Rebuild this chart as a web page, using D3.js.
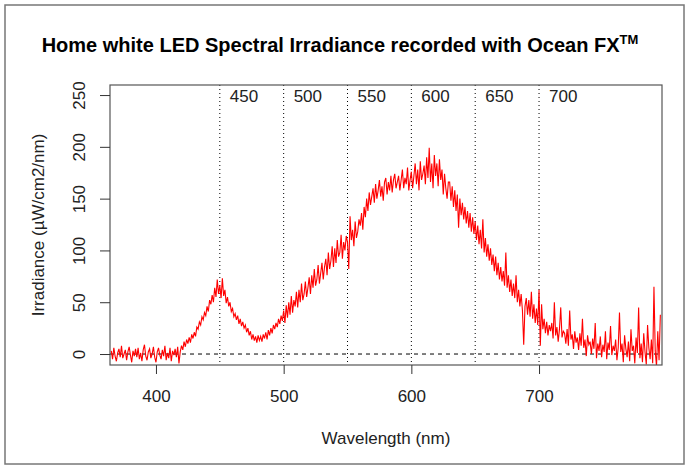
<!DOCTYPE html>
<html><head><meta charset="utf-8">
<script src="https://cdn.jsdelivr.net/npm/d3@7"></script>
<style>
body{margin:0;background:#fff;}
text{font-family:"Liberation Sans",Arial,sans-serif;fill:#222;}
</style></head>
<body><svg id="c" width="689" height="466"></svg>
<script>
const startNm = 365;
const irradiance = [
 3,-5,6,-2,-7,1,5,-3,8,-4,
 0,4,-6,2,7,-1,-8,3,-2,5,
 -3,6,-5,1,-7,4,9,-2,-6,2,
 5,-4,0,7,-3,-8,2,6,-1,-5,
 4,-2,8,-6,1,-4,6,-7,3,-1,
 5,-3,7,-9,2,
 8,4,12,7,14,10,16,11,19,15,
 21,17,26,24,31,28,36,33,40,37,
 46,41,52,48,57,50,64,55,72,58,
 66,54,73,56,62,49,55,46,50,41,
 44,36,39,33,37,29,34,27,31,25,
 28,21,25,18,22,14,19,13,17,11,
 18,13,17,12,19,15,21,14,23,18,
 25,20,28,24,30,26,34,29,37,32,
 42,30,47,35,50,38,56,40,52,46,
 60,45,62,50,68,52,58,70,55,64,
 74,58,76,64,82,66,72,86,68,78,
 88,72,84,92,76,98,82,90,104,84,
 102,88,110,94,98,115,92,108,100,114,
 108,82,133,110,120,104,128,112,118,130,
 124,136,120,142,132,150,138,156,144,152,
 160,146,164,150,158,168,152,162,148,166,
 170,154,166,158,172,156,168,174,160,166,
 172,158,168,178,160,170,164,180,158,168,
 176,160,172,184,164,178,158,186,168,174,
 182,164,190,170,199,166,184,160,192,172,
 184,162,188,168,178,154,174,160,150,166,
 166,148,162,142,158,138,154,122,150,134,
 146,130,142,126,138,122,136,118,132,116,
 128,110,124,106,120,102,130,98,112,94,
 106,90,102,86,96,80,94,76,88,72,
 84,70,80,66,98,64,76,60,72,56,
 68,54,76,50,62,46,58,42,9,46,
 54,38,52,36,60,34,48,30,44,28,
 62,8,48,24,34,20,31,18,28,22,
 30,15,50,18,26,12,24,45,16,22,
 20,10,24,8,42,14,19,5,22,11,
 16,4,20,8,34,6,14,-2,18,9,
 12,0,15,5,30,-4,10,3,17,-3,
 9,2,22,-5,11,4,27,-1,8,3,
 14,-6,6,40,2,10,-8,18,5,-3,
 12,-7,24,3,8,-9,16,1,45,-4,
 10,-8,20,2,-10,28,6,-5,14,-9,
 65,3,-12,22,-6,38
];
const xTicks = [400, 500, 600, 700];
const yTicks = [0, 50, 100, 150, 200, 250];
const markerLines = [450, 500, 550, 600, 650, 700];
const titleText = "Home white LED Spectral Irradiance recorded with Ocean FX";
const titleSup = "TM";
const xLabel = "Wavelength (nm)";
const yLabel = "Irradiance (\u00b5W/cm2/nm)";

const data = irradiance.map((v,i)=>({x:startNm+i, y:v}));

const svg = d3.select("#c");
const L=110, R=662, T=85, B=365;
const x = d3.scaleLinear().domain([364, 796.3]).range([L, R]);
const y = d3.scaleLinear().domain([-10.6, 259.7]).range([B, T]);

svg.append("rect").attr("x",5).attr("y",5).attr("width",679).attr("height",459)
  .attr("fill","none").attr("stroke","#777").attr("stroke-width",1.5);

const tt = svg.append("text").attr("x",340).attr("y",52).attr("text-anchor","middle")
  .style("font-weight","bold").style("font-size","20px").style("fill","#000");
tt.append("tspan").text(titleText);
tt.append("tspan").attr("dy",-8).style("font-size","13px").text(titleSup);

svg.append("defs").append("clipPath").attr("id","clip")
  .append("rect").attr("x",L).attr("y",T).attr("width",R-L).attr("height",B-T);

const g = svg.append("g");
g.selectAll("line.m").data(markerLines).join("line")
  .attr("x1",d=>x(d)).attr("x2",d=>x(d)).attr("y1",T).attr("y2",B)
  .attr("stroke","#000").attr("stroke-width",1).attr("stroke-dasharray","1,3");
g.selectAll("text.m").data(markerLines).join("text")
  .attr("x",d=>x(d)+10).attr("y",102).style("font-size","17px").text(d=>d);

g.append("line").attr("x1",L).attr("x2",R).attr("y1",y(0)).attr("y2",y(0))
  .attr("stroke","#000").attr("stroke-width",1).attr("stroke-dasharray","4,4");

svg.append("path").datum(data).attr("clip-path","url(#clip)")
  .attr("fill","none").attr("stroke","#ff0000").attr("stroke-width",1.1)
  .attr("d", d3.line().x(d=>x(d.x)).y(d=>y(d.y)));

svg.append("rect").attr("x",L).attr("y",T).attr("width",R-L).attr("height",B-T)
  .attr("fill","none").attr("stroke","#555").attr("stroke-width",1.2);

const xa = svg.append("g").attr("transform",`translate(0,${B})`)
  .call(d3.axisBottom(x).tickValues(xTicks).tickSize(9).tickPadding(16).tickFormat(d3.format("d")));
xa.select(".domain").remove();
xa.selectAll("line").attr("stroke","#333");
xa.selectAll("text").style("font-size","17px").style("font-family","Liberation Sans, Arial, sans-serif").attr("fill","#222");

const ya = svg.append("g").attr("transform",`translate(${L},0)`)
  .call(d3.axisLeft(y).tickValues(yTicks).tickSize(10).tickFormat(d3.format("d")));
ya.select(".domain").remove();
ya.selectAll("line").attr("stroke","#333");
ya.selectAll("text").style("font-size","17px").style("font-family","Liberation Sans, Arial, sans-serif").attr("fill","#222")
  .attr("x",null).attr("dy",null).attr("text-anchor","middle")
  .attr("transform","translate(-31,0) rotate(-90)").attr("y",6);

svg.append("text").attr("x",386).attr("y",444).attr("text-anchor","middle")
  .style("font-size","17px").text(xLabel);
svg.append("text").attr("transform",`translate(44,${(T+B)/2}) rotate(-90)`).attr("text-anchor","middle")
  .style("font-size","17px").text(yLabel);
</script></body></html>
